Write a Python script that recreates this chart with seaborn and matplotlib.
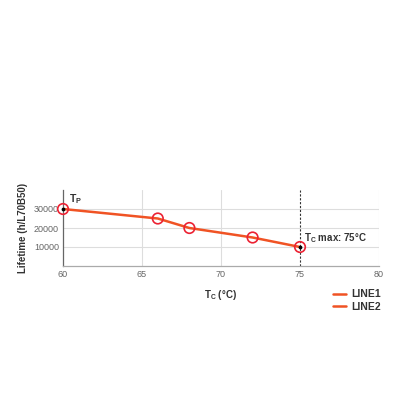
import matplotlib
matplotlib.use("Agg")
import matplotlib.pyplot as plt
import seaborn as sns
import pandas as pd

tc = [60, 66, 68, 72, 75]
lifetime = [30000, 25000, 20000, 15000, 10000]
x_ticks = [60, 65, 70, 75, 80]
y_ticks = [10000, 20000, 30000]
legend_labels = ["LINE1", "LINE2"]

sns.set_theme(style="white")
plt.rcParams['font.family'] = ['Liberation Sans', 'DejaVu Sans']

df = pd.DataFrame({"tc": tc, "life": lifetime})

fig = plt.figure(figsize=(4, 4), dpi=100)
ax = fig.add_axes([0.1575, 0.335, 0.79, 0.19])

line_c = "#f05324"
mark_c = "#ec2233"

ax.set_xlim(60, 80)
ax.set_ylim(0, 40000)
ax.set_xticks(x_ticks)
ax.set_yticks(y_ticks)
for xv in [65, 70, 80]:
    ax.axvline(xv, color="#dddddd", lw=0.8, zorder=0)
for yv in y_ticks:
    ax.axhline(yv, color="#dddddd", lw=0.8, zorder=0)
ax.axvline(75, color="#333333", lw=0.8, ls=(0, (2, 1.5)), zorder=1)

sns.lineplot(data=df, x="tc", y="life", ax=ax, color=line_c, lw=1.8,
             legend=False, zorder=3)
ax.scatter(tc, lifetime, s=58, facecolors="none", edgecolors=mark_c,
           linewidths=1.2, zorder=4, clip_on=False)
ax.scatter([tc[0], tc[-1]], [lifetime[0], lifetime[-1]], s=3, color="black",
           zorder=5, clip_on=False)

ax.text(60.35, 31500, r"T$_\mathregular{P}$", fontsize=7.5, fontweight="bold",
        color="#333333", va="bottom", ha="left")
ax.text(75.25, 11000, r"T$_\mathregular{C}$ max: 75°C", fontsize=7, fontweight="bold",
        color="#333333", va="bottom", ha="left")

for s in ["top", "right"]:
    ax.spines[s].set_visible(False)
ax.spines["left"].set_color("#666666")
ax.spines["bottom"].set_color("#aaaaaa")
ax.spines["left"].set_linewidth(0.9)
ax.spines["bottom"].set_linewidth(0.9)
ax.tick_params(axis="both", labelsize=6.5, colors="#666666", length=0, pad=3)

ax.set_xlabel(r"T$_\mathregular{C}$ (°C)", fontsize=7, fontweight="bold",
              color="#333333", labelpad=6)
ax.set_ylabel("Lifetime (h/L70B50)", fontsize=7, fontweight="bold",
              color="#333333", labelpad=4)

from matplotlib.lines import Line2D
handles = [Line2D([0], [0], color=line_c, lw=1.8) for _ in legend_labels]
leg = fig.legend(handles, legend_labels, loc="upper left",
                 bbox_to_anchor=(0.81, 0.3), frameon=False,
                 prop={"size": 7.5, "weight": "bold"}, handlelength=1.2,
                 handletextpad=0.5, labelspacing=0.25)
for t in leg.get_texts():
    t.set_color("#333333")

fig.savefig("out.png", dpi=100, facecolor="white")
